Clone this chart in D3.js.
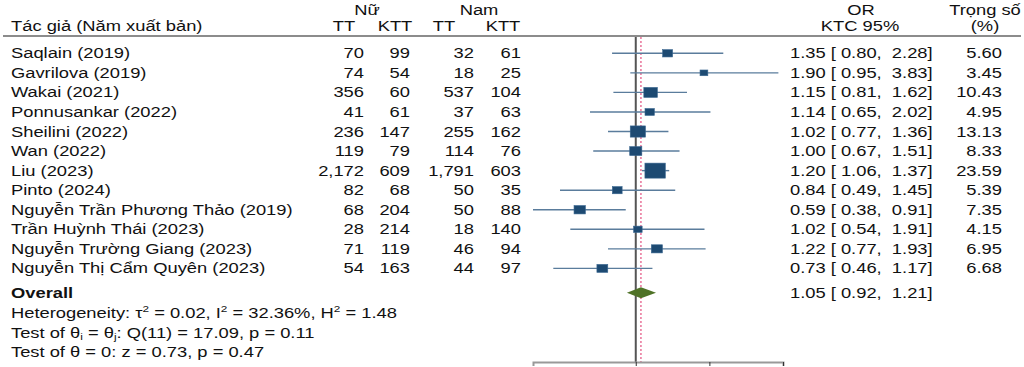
<!DOCTYPE html>
<html>
<head>
<meta charset="utf-8">
<script src="https://cdn.jsdelivr.net/npm/d3@7"></script>
<style>
  body { margin: 0; background: #fff; }
  text { font-family: "Liberation Sans", Arial, sans-serif; font-size: 14px; fill: #111; }
</style>
</head>
<body>
<div id="wrapper"></div>
<script>
// data
const studies = ["Saqlain (2019)", "Gavrilova (2019)", "Wakai (2021)", "Ponnusankar (2022)",
  "Sheilini (2022)", "Wan (2022)", "Liu (2023)", "Pinto (2024)",
  "Nguyễn Trần Phương Thảo (2019)", "Trần Huỳnh Thái (2023)",
  "Nguyễn Trường Giang (2023)", "Nguyễn Thị Cẩm Quyên (2023)"]
const nuTT   = [70, 74, 356, 41, 236, 119, 2172, 82, 68, 28, 71, 54]
const nuKTT  = [99, 54, 60, 61, 147, 79, 609, 68, 204, 214, 119, 163]
const namTT  = [32, 18, 537, 37, 255, 114, 1791, 50, 50, 18, 46, 44]
const namKTT = [61, 25, 104, 63, 162, 76, 603, 35, 88, 140, 94, 97]
const orVal  = [1.35, 1.90, 1.15, 1.14, 1.02, 1.00, 1.20, 0.84, 0.59, 1.02, 1.22, 0.73]
const ciLow  = [0.80, 0.95, 0.81, 0.65, 0.77, 0.67, 1.06, 0.49, 0.38, 0.54, 0.77, 0.46]
const ciHigh = [2.28, 3.83, 1.62, 2.02, 1.36, 1.51, 1.37, 1.45, 0.91, 1.91, 1.93, 1.17]
const weight = [5.60, 3.45, 10.43, 4.95, 13.13, 8.33, 23.59, 5.39, 7.35, 4.15, 6.95, 6.68]
const overall = {or: 1.05, lo: 0.92, hi: 1.21}
const axisTicks = [1, 2, 4]

const dimensions = {width: 1024, height: 367}
const SX = 1.31   // the source picture is stretched sideways

const svg = d3.select("#wrapper").append("svg")
    .attr("width", dimensions.width).attr("height", dimensions.height)

const fmt2 = d3.format(".2f")
const fmtN = d3.format(",")

// scales
const xScale = d3.scaleLog().domain([0.38, 4]).range([533, 783])
const yScale = d3.scaleLinear().domain([0, studies.length - 1]).range([53.3, 268.4])
const yOverall = 292.7
const boxH = d => 3.09 * Math.sqrt(d)

// stretched text helper
function txt(x, y, str, anchor, bold) {
  const g = svg.append("g").attr("transform", `translate(${x},${y}) scale(${SX},1)`)
  const t = g.append("text").attr("text-anchor", anchor || "start")
  if (bold) t.style("font-weight", "bold")
  if (str !== null) t.text(str)
  return t
}
// pieces: [text, shift]; shift 0 = normal, <0 superscript, >0 subscript
function mixed(x, y, pieces) {
  const t = txt(x, y, null)
  let cur = 0
  pieces.forEach(([s, shift]) => {
    const sp = t.append("tspan").attr("dy", shift - cur).text(s)
    if (shift !== 0) sp.style("font-size", "9px")
    cur = shift
  })
  return t
}

// header
txt(367, 15, "Nữ", "middle")
txt(479, 15, "Nam", "middle")
txt(11, 31, "Tác giả (Năm xuất bản)")
txt(344, 31, "TT", "middle")
txt(395, 31, "KTT", "middle")
txt(444, 31, "TT", "middle")
txt(503, 31, "KTT", "middle")
txt(861, 15, "OR", "middle")
txt(860, 31, "KTC 95%", "middle")
txt(985, 15, "Trọng số", "middle")
txt(985, 31, "(%)", "middle")
svg.append("line").attr("x1", 3).attr("x2", 1021).attr("y1", 36).attr("y2", 36)
    .attr("stroke", "#8c8c8c").attr("stroke-width", 2)

// reference lines
svg.append("line").attr("x1", xScale(1)).attr("x2", xScale(1)).attr("y1", 37).attr("y2", 362)
    .attr("stroke", "#555").attr("stroke-width", 2)
svg.append("line").attr("x1", xScale(overall.or)).attr("x2", xScale(overall.or)).attr("y1", 37).attr("y2", 362)
    .attr("stroke", "#e3507f").attr("stroke-width", 1.2).attr("stroke-dasharray", "2,2")

// table text
studies.forEach((s, i) => {
  const y = yScale(i) + 5
  txt(11, y, s)
  txt(364, y, fmtN(nuTT[i]), "end")
  txt(410, y, fmtN(nuKTT[i]), "end")
  txt(474, y, fmtN(namTT[i]), "end")
  txt(521, y, fmtN(namKTT[i]), "end")
  txt(790, y, `${fmt2(orVal[i])} [ ${fmt2(ciLow[i])},  ${fmt2(ciHigh[i])}]`).attr("xml:space", "preserve")
  txt(1002, y, fmt2(weight[i]), "end")
})

// whiskers and boxes
svg.selectAll("line.ci").data(studies).enter().append("line")
    .attr("x1", (d, i) => xScale(ciLow[i])).attr("x2", (d, i) => xScale(ciHigh[i]))
    .attr("y1", (d, i) => yScale(i)).attr("y2", (d, i) => yScale(i))
    .attr("stroke", "#5a7c9c").attr("stroke-width", 1.4)
svg.selectAll("rect.box").data(studies).enter().append("rect")
    .attr("x", (d, i) => xScale(orVal[i]) - boxH(weight[i]) * 1.36 / 2)
    .attr("y", (d, i) => yScale(i) - boxH(weight[i]) / 2)
    .attr("width", (d, i) => boxH(weight[i]) * 1.36)
    .attr("height", (d, i) => boxH(weight[i]))
    .attr("fill", "#1d4a72").attr("stroke", "#3a6790").attr("stroke-width", 0.6)

// overall
txt(11, yOverall + 5, "Overall", "start", true)
svg.append("path")
    .attr("d", `M${xScale(overall.lo)},${yOverall} L${xScale(overall.or)},${yOverall - 5.5} L${xScale(overall.hi)},${yOverall} L${xScale(overall.or)},${yOverall + 5.5} Z`)
    .attr("fill", "#4f7227")
txt(790, yOverall + 5, `${fmt2(overall.or)} [ ${fmt2(overall.lo)},  ${fmt2(overall.hi)}]`).attr("xml:space", "preserve")

// stats
mixed(11, 318, [["Heterogeneity: τ", 0], ["2", -6], [" = 0.02, I", 0], ["2", -6],
  [" = 32.36%, H", 0], ["2", -6], [" = 1.48", 0]])
mixed(11, 337.5, [["Test of θ", 0], ["i", 2], [" = θ", 0], ["j", 2], [": Q(11) = 17.09, p = 0.11", 0]])
txt(11, 357, "Test of θ = 0: z = 0.73, p = 0.47")

// axis
const xAxis = svg.append("g").attr("transform", "translate(0,362)")
    .call(d3.axisBottom(xScale).tickValues(axisTicks).tickFormat("").tickSizeOuter(0).tickSize(4))
xAxis.select(".domain").attr("stroke", "#999").attr("stroke-width", 2)
xAxis.selectAll(".tick line").attr("stroke", "#333")
</script>
</body>
</html>
